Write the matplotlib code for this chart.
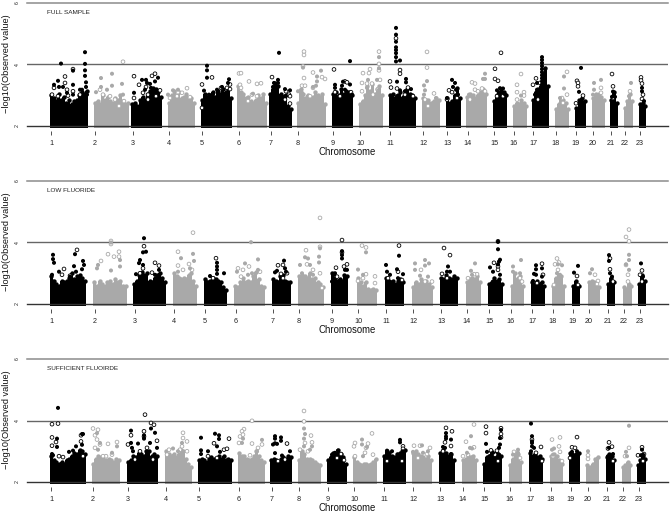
import numpy as np
import matplotlib
matplotlib.use('Agg')
from matplotlib import pyplot as plt

plt.rcParams['font.family'] = ['Liberation Sans', 'DejaVu Sans']

W, H = 670, 513
BLACK = '#000000'
GREY = '#a9a9a9'

chroms = [str(i) for i in range(1, 24)]

# positions along the genome axis, one start/end/tick per chromosome
p1_start = [50, 94, 131, 168, 201, 237, 269, 297, 332, 359, 389, 422, 446, 466, 493, 513, 532, 555, 575, 592, 610, 624, 639]
p1_end = [88, 129, 162, 195, 232, 267, 292, 326, 353, 383, 416, 440, 461, 487, 507, 527, 549, 569, 586, 605, 618, 633, 646]
p1_ticks = [51, 95, 133, 169, 202, 239, 271, 298, 333, 360, 390, 423, 447, 468, 494, 514, 533, 556, 576, 593, 611, 625, 640]

p2_start = [50, 93, 133, 173, 204, 234, 272, 298, 331, 357, 385, 412, 440, 466, 488, 511, 531, 552, 572, 588, 607, 623, 638]
p2_end = [86, 127, 166, 197, 227, 265, 291, 324, 348, 377, 404, 433, 458, 481, 503, 524, 545, 565, 580, 600, 615, 632, 646]
p2_ticks = [51, 95, 135, 174, 205, 236, 273, 299, 332, 358, 386, 413, 441, 467, 489, 511, 532, 553, 573, 589, 608, 624, 640]

p3_start = [50, 92, 127, 165, 198, 238, 270, 298, 327, 353, 383, 412, 439, 462, 483, 509, 529, 550, 569, 586, 606, 622, 637]
p3_end = [86, 120, 158, 192, 232, 265, 292, 321, 347, 377, 406, 432, 455, 477, 502, 522, 543, 563, 580, 599, 615, 631, 646]
p3_ticks = [51, 93, 128, 166, 199, 239, 272, 299, 328, 354, 384, 413, 440, 463, 484, 510, 530, 551, 571, 588, 607, 623, 639]

# upper edge of the dense cloud along each chromosome
p1_band = [
    [3.0, 2.9, 2.8, 3.05, 2.85, 2.95, 2.75, 2.85, 2.7, 2.8, 2.85, 3.0, 3.1, 3.05, 3.15],
    [2.75, 2.8, 2.7, 3.0, 2.85, 2.95, 2.8, 2.75, 2.9, 2.85, 3.0, 2.8, 2.7, 2.75],
    [2.7, 2.75, 2.65, 2.85, 2.95, 2.85, 3.05, 3.15, 3.25, 3.2, 3.1, 2.95],
    [2.75, 3.0, 3.15, 2.95, 3.1, 2.9, 2.95, 3.05, 2.85, 2.9, 2.75],
    [2.85, 3.05, 2.95, 3.0, 3.1, 2.95, 3.15, 3.05, 3.2, 3.1, 3.2, 2.9],
    [3.3, 3.1, 3.05, 2.9, 2.95, 2.8, 2.75, 2.85, 3.0, 2.9, 3.05, 2.75],
    [3.05, 3.2, 3.4, 3.3, 3.05, 2.95, 3.0, 2.65, 2.55],
    [2.75, 3.2, 3.05, 2.9, 3.0, 2.9, 2.95, 3.1, 3.0, 2.95, 3.05, 2.7],
    [3.05, 3.1, 3.0, 3.2, 3.05, 3.15, 3.1, 3.0],
    [2.7, 2.8, 3.0, 3.3, 3.15, 3.35, 3.05, 3.2, 3.3, 3.0],
    [3.0, 3.05, 2.9, 3.0, 3.1, 2.95, 3.15, 3.2, 3.05, 3.0, 2.9],
    [2.9, 2.85, 2.85, 2.75, 2.8, 2.9, 2.85],
    [2.9, 2.75, 2.8, 3.0, 3.25, 2.9],
    [2.95, 3.05, 3.0, 2.9, 3.0, 3.1, 3.2, 3.05],
    [2.8, 3.0, 3.1, 3.2, 3.1, 3.0],
    [2.65, 2.75, 2.7, 2.85, 2.75, 2.65],
    [2.85, 3.1, 3.2, 3.3, 3.7, 3.9, 3.3],
    [2.55, 2.7, 2.9, 2.85, 2.75, 2.55],
    [2.6, 2.85, 2.9, 2.8],
    [2.9, 3.05, 3.05, 2.95, 2.85],
    [2.85, 3.1, 2.75],
    [2.6, 2.8, 3.05, 2.8],
    [2.7, 2.75, 2.65],
]
p2_band = [
    [2.9, 2.75, 2.65, 2.6, 2.75, 2.7, 2.75, 2.85, 3.0, 2.8, 2.9, 2.95, 2.85, 2.75],
    [2.7, 2.6, 2.75, 2.65, 2.6, 2.7, 2.75, 2.65, 2.8, 2.7, 2.75, 2.6, 2.6],
    [2.65, 2.75, 2.95, 3.05, 2.95, 3.0, 2.75, 2.7, 2.85, 2.95, 3.0, 2.85, 2.7],
    [3.0, 2.9, 2.85, 2.8, 2.85, 2.8, 2.95, 3.0, 2.75, 2.6],
    [2.8, 2.7, 2.75, 2.85, 2.8, 2.75, 2.7, 2.55, 2.45],
    [2.6, 2.55, 2.7, 2.85, 2.7, 2.75, 2.7, 2.9, 3.05, 2.8, 2.6, 2.55],
    [2.8, 2.75, 2.7, 2.9, 2.95, 2.75, 2.7, 2.7],
    [2.9, 2.95, 2.9, 2.85, 3.0, 2.8, 2.85, 2.7, 2.65, 2.55],
    [3.0, 2.85, 2.75, 2.8, 2.75, 2.95, 2.9],
    [2.85, 2.7, 2.6, 2.7, 2.5, 2.45, 2.5, 2.45],
    [2.85, 2.75, 2.7, 2.75, 2.65, 2.75, 2.8, 2.7],
    [2.55, 2.7, 2.65, 2.8, 2.7, 2.75, 2.65, 2.55],
    [2.85, 2.8, 2.95, 2.85, 2.8, 2.9, 2.85],
    [2.7, 2.8, 2.85, 2.8, 2.9, 2.7],
    [2.65, 2.7, 2.85, 2.75, 2.8, 2.65],
    [2.6, 3.0, 2.85, 2.9, 2.6],
    [2.7, 2.65, 2.75, 2.65, 2.7, 2.6],
    [2.6, 2.85, 2.95, 2.9, 2.6],
    [2.6, 2.75, 2.6],
    [2.7, 2.75, 2.7, 2.65, 2.55],
    [2.65, 2.85, 2.7],
    [2.55, 2.5, 2.65, 2.6],
    [2.65, 2.95, 2.75],
]
p3_band = [
    [2.85, 2.7, 2.65, 2.6, 2.65, 2.6, 2.7, 2.75, 2.85, 2.95, 2.9, 3.05, 3.0, 2.9],
    [2.6, 2.75, 2.85, 2.8, 2.75, 2.7, 2.75, 2.7, 2.65, 2.75, 2.7],
    [2.65, 2.7, 2.85, 2.8, 2.95, 2.9, 2.85, 3.0, 3.0, 2.85, 2.9, 2.85],
    [3.0, 2.9, 2.85, 2.9, 2.8, 2.9, 3.05, 3.0, 2.75, 2.6, 2.5],
    [2.7, 2.75, 2.7, 2.65, 2.75, 2.8, 2.75, 2.7, 2.85, 2.75, 2.85, 2.7, 2.75, 2.7],
    [2.95, 2.85, 2.85, 2.75, 2.7, 2.75, 2.85, 3.0, 2.85, 2.7, 2.65],
    [2.7, 2.75, 2.7, 2.65, 2.75, 2.8, 2.75, 2.85, 2.8],
    [2.7, 3.0, 2.9, 2.75, 2.75, 2.7, 2.65, 2.6, 2.55],
    [2.7, 2.8, 2.95, 2.9, 3.05, 2.9, 2.8, 2.6],
    [2.8, 2.65, 2.6, 2.55, 2.6, 2.6, 2.55, 2.6, 2.65, 2.75],
    [2.85, 3.0, 2.95, 2.85, 2.8, 2.9, 2.95, 3.0, 3.05],
    [2.95, 3.0, 2.9, 2.85, 2.8, 2.75, 2.85, 2.7],
    [2.95, 3.05, 2.95, 2.85, 2.9, 2.7],
    [2.7, 2.75, 2.85, 2.8, 2.85, 2.7],
    [2.6, 2.8, 2.85, 3.0, 2.85, 2.95, 2.9, 2.85],
    [2.55, 2.75, 2.95, 2.9, 2.65],
    [2.95, 2.85, 2.9, 2.8, 2.85, 2.75],
    [2.85, 2.9, 2.85, 2.7, 2.6],
    [2.95, 2.85, 2.9, 2.95],
    [2.55, 2.5, 2.6, 2.75, 2.8],
    [2.8, 2.9, 2.85, 2.7],
    [2.5, 2.55, 2.65, 2.55],
    [2.55, 2.7, 2.85, 2.75],
]

# single SNPs standing clear of the cloud (position, -log10 p)
p1_filled = [
    (61, 4.03), (85, 4.40), (85, 4.02), (85, 3.81), (85, 3.63), (73, 3.80), (73, 3.34), (73, 3.02), (58, 3.47), (54, 3.34),
    (59, 3.27), (86, 3.42), (86, 3.27), (63, 3.27), (67, 3.08), (80, 3.18), (82, 3.18), (87, 3.02),
    (112, 3.70), (101, 3.56), (101, 3.27), (96, 3.1), (122, 3.37), (123, 3.02), (112, 3.31), (107, 3.18),
    (142, 3.5), (147, 3.4), (150, 3.37), (155, 3.45), (158, 3.57), (146, 3.5), (134, 3.08), (151, 3.24), (145, 3.18),
    (173, 3.16), (178, 3.18), (168, 3.02),
    (207, 3.96), (207, 3.81), (207, 3.57), (204, 3.15), (229, 3.52), (228, 3.4), (217, 3.18), (222, 3.27), (209, 3.02), (213, 3.02),
    (243, 2.97), (253, 3.05),
    (279, 4.38), (274, 3.4), (278, 3.5), (278, 3.4), (273, 3.27), (285, 3.2), (290, 3.16), (277, 3.18), (285, 2.97),
    (303, 3.9), (321, 3.8), (317, 3.61), (317, 3.45), (313, 3.27), (298, 3.13), (302, 3.08), (316, 3.31),
    (350, 4.11), (335, 3.34), (335, 3.24), (343, 3.44), (350, 3.35), (342, 3.31), (345, 3.18), (335, 2.91), (352, 3.02),
    (379, 4.24), (379, 3.88), (368, 3.5), (377, 3.5), (367, 3.24), (379, 3.18),
    (396, 5.19), (396, 4.97), (396, 4.74), (396, 4.56), (396, 4.47), (396, 4.37), (396, 4.24), (396, 4.1), (400, 4.13), (397, 3.44),
    (406, 3.53), (406, 3.42), (400, 3.16), (411, 3.2), (405, 3.13), (397, 2.97), (392, 2.91),
    (427, 3.46), (424, 3.32), (425, 3.16), (424, 3.02), (436, 2.91),
    (452, 3.5), (455, 3.4), (453, 3.27), (456, 3.18), (447, 2.91), (458, 3.02),
    (485, 3.7), (483, 3.53), (485, 3.53), (469, 3.02), (473, 2.97), (483, 3.02),
    (500, 3.23), (503, 3.22), (505, 3.03), (497, 3.16),
    (521, 2.99),
    (542, 4.24), (542, 4.15), (542, 4.05), (542, 3.95), (542, 3.85), (542, 3.75), (542, 3.65), (542, 3.55), (542, 3.45), (542, 3.35),
    (547, 3.26), (537, 3.18), (535, 3.02), (537, 3.4),
    (564, 3.61), (564, 3.22), (560, 2.91),
    (581, 3.89), (579, 3.11), (582, 2.86),
    (601, 3.5), (594, 3.4), (594, 3.18), (593, 3.02),
    (613, 3.12), (615, 2.95), (612, 2.95),
    (631, 3.4), (629, 2.97),
    (642, 3.24), (642, 3.13), (644, 2.81),
]
p1_open = [
    (54, 3.24), (65, 3.61), (65, 3.40), (73, 3.85), (67, 3.18), (68, 2.99), (73, 3.13), (52, 3.02), (58, 2.97), (80, 3.02),
    (123, 4.09), (100, 3.18), (103, 3.02), (115, 2.86), (124, 2.81), (119, 2.65), (110, 2.97),
    (134, 3.62), (139, 3.34), (152, 3.63), (155, 3.7), (146, 3.27), (143, 3.08), (148, 3.02), (134, 2.91), (160, 3.16), (156, 2.97), (148, 2.86),
    (187, 3.23), (182, 3.08), (177, 2.97), (170, 2.91), (190, 2.94), (178, 3.1),
    (202, 3.35), (212, 3.58), (230, 3.35), (227, 3.24), (230, 3.2), (202, 2.59), (221, 3.24),
    (239, 3.71), (241, 3.72), (249, 3.45), (257, 3.37), (261, 3.39), (240, 3.34), (241, 3.24), (252, 3.02), (257, 2.97), (248, 2.81),
    (272, 3.59), (289, 3.02), (290, 2.97), (290, 2.73), (286, 3.13), (285, 2.86),
    (304, 4.42), (304, 4.31), (303, 3.94), (304, 3.56), (313, 3.74), (302, 3.31), (305, 3.31), (325, 3.53), (322, 3.59), (313, 3.24), (310, 2.97),
    (334, 3.84), (345, 3.45), (347, 3.42), (335, 3.1), (340, 2.97), (351, 3.1),
    (379, 4.42), (379, 4.02), (379, 3.81), (363, 3.72), (370, 3.85), (369, 3.72), (362, 3.4), (367, 3.38), (372, 3.38), (380, 3.5), (362, 3.13), (373, 3.02), (378, 3.2),
    (396, 4.85), (400, 3.82), (400, 3.7), (390, 3.45), (391, 3.25), (397, 3.22), (408, 3.25), (405, 3.02), (413, 2.97),
    (427, 4.41), (427, 3.9), (434, 3.06), (425, 2.86), (428, 2.65),
    (449, 3.16), (452, 3.1), (447, 2.86), (457, 2.91),
    (472, 3.42), (475, 3.38), (475, 3.18), (482, 3.22), (478, 3.13), (485, 3.13), (470, 2.86),
    (501, 4.38), (495, 3.86), (495, 3.53), (498, 3.47), (497, 2.97), (503, 2.97),
    (521, 3.69), (517, 3.34), (517, 3.1), (524, 3.1), (524, 2.99), (517, 2.86),
    (536, 3.55), (533, 3.34), (540, 3.4), (538, 2.86),
    (567, 3.76), (567, 3.02), (562, 2.91), (563, 2.75),
    (577, 3.47), (578, 3.4), (578, 3.29), (583, 2.99), (576, 2.74),
    (601, 3.24), (601, 3.08),
    (612, 3.69), (613, 3.29), (613, 2.91),
    (630, 3.13),
    (641, 3.58), (641, 3.48), (642, 3.38), (643, 3.02), (642, 2.88),
]

p2_filled = [
    (53, 3.6), (53, 3.46), (54, 3.34), (75, 3.62), (74, 3.23), (76, 3.05), (83, 3.4), (84, 3.27), (82, 3.13), (52, 2.95), (53, 2.73), (59, 3.05), (70, 2.89),
    (111, 4.0), (120, 3.43), (97, 3.16), (98, 3.27), (111, 3.09), (120, 3.22),
    (144, 4.14), (146, 3.7), (143, 3.68), (139, 3.33), (140, 3.43), (136, 2.97), (143, 3.27), (155, 2.95), (159, 3.11),
    (181, 3.49), (193, 3.63), (194, 3.4), (178, 3.05), (190, 3.16),
    (217, 3.34), (217, 3.22), (217, 3.11), (217, 2.98), (224, 3.0), (210, 2.91), (206, 2.73),
    (251, 4.01), (258, 3.45), (245, 3.32), (237, 3.05), (248, 2.95), (258, 3.11), (252, 3.0),
    (284, 3.41), (277, 3.08), (275, 3.03), (285, 3.16), (286, 3.05),
    (320, 3.81), (319, 3.54), (305, 3.52), (308, 3.48), (319, 3.35), (300, 3.27), (310, 3.27), (302, 3.0), (313, 2.95),
    (342, 3.59), (342, 3.72), (342, 3.48), (335, 3.0), (345, 3.11), (347, 3.11), (332, 2.73), (334, 2.95),
    (366, 3.68), (358, 3.12), (363, 2.95),
    (399, 3.57), (386, 3.27), (397, 3.13), (387, 3.05), (390, 2.95), (403, 2.97), (398, 2.84),
    (425, 3.43), (415, 3.32), (429, 3.32), (425, 3.25), (415, 3.11), (420, 2.92), (428, 2.89),
    (448, 3.22), (447, 3.05), (450, 3.05), (455, 2.84),
    (475, 3.32), (471, 3.08), (472, 2.95),
    (498, 4.02), (498, 3.78), (500, 3.44), (498, 3.29), (490, 3.19), (499, 3.38), (493, 3.05), (500, 2.95), (493, 2.73),
    (521, 3.43), (513, 3.22), (513, 3.05), (520, 3.0),
    (536, 3.26), (542, 3.16), (536, 3.13), (534, 2.98), (533, 2.75), (542, 2.89), (536, 2.95),
    (562, 3.26), (558, 3.29), (557, 3.0), (560, 2.95),
    (578, 3.24), (574, 3.02),
    (592, 3.13), (590, 3.0),
    (609, 3.59), (609, 3.4), (610, 3.0), (612, 2.89),
    (629, 3.6), (629, 3.43), (626, 3.29), (629, 3.11),
    (641, 3.32), (643, 2.89),
]
p2_open = [
    (77, 3.76), (64, 3.14), (70, 2.92), (62, 2.95),
    (111, 4.05), (111, 3.95), (108, 3.62), (114, 3.54), (119, 3.7), (119, 3.54), (101, 3.4),
    (144, 3.88), (155, 3.34), (159, 3.25), (152, 3.02), (143, 3.16), (140, 3.0),
    (178, 3.7), (193, 4.32), (178, 3.25), (189, 3.3), (183, 3.11), (192, 3.11),
    (216, 3.49), (213, 2.84),
    (238, 3.16), (243, 3.11), (249, 3.22), (241, 2.89), (260, 3.05),
    (278, 3.26), (283, 3.27), (281, 2.98), (287, 3.0), (283, 2.84),
    (320, 4.8), (320, 3.86), (306, 3.75), (307, 3.29), (313, 3.11), (320, 3.0), (322, 2.52),
    (342, 4.08), (342, 3.68), (336, 3.18), (347, 3.29), (344, 3.22), (337, 2.89),
    (362, 3.9), (366, 3.84), (366, 2.97), (375, 2.9), (375, 2.68), (363, 2.84), (358, 2.75),
    (399, 3.9), (398, 3.05), (388, 2.84), (402, 2.78),
    (421, 3.11), (432, 2.73), (425, 2.73),
    (444, 3.82), (450, 3.59), (442, 2.98), (447, 2.84),
    (477, 2.97), (468, 2.84), (474, 2.97),
    (498, 4.04), (494, 3.34), (498, 3.22), (498, 3.11),
    (520, 2.84), (522, 2.73),
    (542, 3.31), (543, 2.95), (537, 2.68),
    (557, 3.48), (559, 3.35), (555, 3.29), (558, 3.11), (554, 2.62),
    (577, 2.91), (578, 2.62),
    (595, 2.95), (598, 2.75), (597, 2.65),
    (610, 3.48), (610, 3.13), (613, 2.73),
    (629, 4.42), (626, 4.18), (629, 4.04), (626, 3.27), (628, 2.95), (628, 2.73),
    (642, 3.09), (640, 2.95), (642, 2.73),
]

p3_filled = [
    (58, 4.41), (57, 3.41), (57, 3.14), (52, 2.91), (53, 2.87), (82, 3.56), (83, 3.56), (76, 3.16), (82, 3.21), (69, 2.98), (73, 3.02), (80, 3.0),
    (100, 3.27), (117, 3.16), (112, 2.95), (98, 3.05), (97, 3.59),
    (131, 3.67), (144, 3.41), (144, 3.52), (151, 3.74), (155, 3.6), (150, 3.27), (138, 3.25), (132, 3.11), (131, 3.27), (157, 3.11), (147, 2.95), (133, 3.0),
    (182, 3.27), (173, 3.09), (178, 3.0),
    (201, 3.44), (215, 3.57), (219, 3.52), (219, 3.4), (217, 3.16), (201, 3.03), (201, 2.91), (208, 3.0), (220, 2.98),
    (243, 3.41), (262, 3.37), (242, 3.27), (257, 3.0),
    (275, 3.49), (275, 3.41), (281, 3.45), (281, 3.34), (275, 3.26), (277, 3.24), (273, 3.22), (275, 2.94), (282, 2.86), (290, 3.0),
    (304, 3.74), (305, 3.56), (304, 3.41), (312, 3.16), (304, 3.16), (310, 3.05),
    (338, 3.02), (335, 2.95), (332, 2.89),
    (362, 3.38), (362, 3.22), (367, 3.14), (363, 2.84),
    (400, 3.37), (400, 3.29), (403, 3.0), (387, 3.02), (392, 3.0), (398, 2.89),
    (422, 3.19), (413, 2.98), (423, 2.95), (428, 3.0),
    (446, 3.59), (446, 3.48), (451, 3.38), (446, 3.41), (443, 3.14), (451, 2.91), (445, 3.11),
    (471, 3.49), (470, 3.11), (467, 2.95), (472, 3.09),
    (486, 3.24), (501, 3.69), (500, 3.43), (500, 3.22), (499, 3.11), (487, 2.98), (493, 2.95), (499, 2.89), (490, 2.84),
    (518, 3.05), (513, 2.89), (518, 2.95),
    (531, 3.9), (532, 3.49), (532, 3.27), (532, 3.16), (531, 3.0), (534, 3.11), (532, 3.32),
    (554, 3.09), (552, 3.05), (553, 2.89),
    (572, 2.98), (577, 3.0), (573, 2.89),
    (588, 3.0),
    (609, 3.11), (613, 2.91), (608, 2.84),
    (629, 3.83), (626, 2.98), (627, 2.84),
    (642, 3.05), (641, 2.87), (643, 2.89),
]
p3_open = [
    (52, 3.88), (58, 3.9), (52, 3.45), (56, 3.3), (52, 3.18), (59, 2.84), (63, 2.81), (81, 3.52), (81, 3.32), (83, 2.84),
    (93, 3.74), (98, 3.7), (95, 3.52), (97, 3.38), (100, 3.22), (108, 3.24), (95, 3.11), (117, 3.3), (106, 2.84), (103, 2.84), (112, 2.89),
    (145, 4.19), (151, 3.92), (154, 3.86), (144, 3.65), (131, 3.52), (144, 3.48), (157, 3.34), (128, 3.22), (147, 3.11), (140, 3.0), (135, 2.73), (153, 2.73),
    (183, 3.6), (183, 3.43), (187, 3.32), (187, 3.0), (180, 3.05), (169, 3.05), (182, 3.16), (167, 2.89),
    (229, 3.41), (214, 3.26), (224, 3.05), (227, 3.08), (208, 2.84), (217, 2.78),
    (244, 3.72), (252, 3.99), (240, 3.48), (242, 3.65), (243, 3.54), (239, 3.27), (252, 3.25), (262, 3.22), (250, 2.87), (258, 3.11),
    (287, 3.25), (285, 2.73), (278, 2.68),
    (304, 4.31), (304, 3.97), (311, 3.51), (312, 3.29), (305, 3.27), (300, 3.05), (308, 3.0),
    (341, 2.91), (344, 2.71), (337, 2.78),
    (372, 3.58), (354, 3.16), (355, 3.27), (368, 3.25), (366, 3.11), (365, 2.95), (355, 2.84), (373, 2.89),
    (403, 3.16), (403, 3.08), (387, 2.68), (402, 2.68),
    (414, 3.18), (420, 3.18), (430, 3.11), (427, 2.91), (418, 2.78),
    (446, 3.76), (452, 3.65), (451, 3.17), (445, 3.29), (443, 3.0),
    (474, 3.87), (466, 3.31), (474, 3.13), (463, 2.84), (468, 2.89),
    (486, 3.8), (486, 3.59), (501, 3.75), (501, 3.56), (491, 3.03), (497, 3.02), (501, 3.45), (498, 2.68), (495, 2.89),
    (514, 2.98), (520, 2.78),
    (532, 3.38), (541, 3.14), (536, 2.95), (542, 2.68),
    (560, 3.45), (552, 3.38), (559, 3.16), (560, 2.98), (553, 2.84), (562, 2.68),
    (577, 3.46), (572, 3.13), (575, 3.11), (570, 2.78),
    (588, 2.87), (588, 2.75),
    (609, 3.29), (612, 3.15), (608, 3.09), (613, 2.68),
    (629, 3.11), (625, 2.84),
    (642, 3.13), (644, 2.91), (638, 2.87), (643, 2.68),
]

titles = ['FULL SAMPLE', 'LOW FLUORIDE', 'SUFFICIENT FLUOIRDE']


def chrom_colors(xs, start):
    cols = []
    for x in xs:
        idx = 0
        for i in range(len(start)):
            if x >= start[i] - 3:
                idx = i
        cols.append(BLACK if idx % 2 == 0 else GREY)
    return cols


def manhattan(top, base, title, start, end, ticks, band, filled, opened):
    ax = fig.add_axes([27 / W, 1 - base / H, (668 - 27) / W, (base - top) / H])
    ax.set_xlim(27, 668)
    ax.set_ylim(2, 6)
    ax.patch.set_alpha(0)

    for i in range(len(start)):
        col = BLACK if i % 2 == 0 else GREY
        edge = np.linspace(start[i], end[i], len(band[i]) + 1)
        mid = (edge[:-1] + edge[1:]) / 2
        tops = np.array(band[i])
        ax.bar(mid, tops - 1.95, bottom=1.95, width=(edge[1] - edge[0]) * 1.15, color=col, linewidth=0, zorder=2, clip_on=False)
        ax.scatter(mid, tops, s=10, color=col, linewidths=0, zorder=2)

    ox, oy = np.array(opened).T
    ax.scatter(ox, oy, s=7, facecolors='white', edgecolors=chrom_colors(ox, start), linewidths=0.6, zorder=3, clip_on=False)
    fx, fy = np.array(filled).T
    ax.scatter(fx, fy, s=8.5, color=chrom_colors(fx, start), linewidths=0, zorder=4, clip_on=False)

    ax.axhline(6, color='#8c8c8c', lw=1.1, zorder=1, clip_on=False)
    ax.axhline(4, color='#666666', lw=1.0, zorder=1)
    ax.axhline(2, color='#333333', lw=1.0, zorder=5, clip_on=False)

    for s in ['top', 'right', 'left', 'bottom']:
        ax.spines[s].set_visible(False)
    ax.spines['bottom'].set_position(('outward', 3.5))
    ax.set_xticks(ticks)
    ax.set_xticklabels(chroms, fontsize=5.2, color='#222222')
    ax.tick_params(axis='x', length=3, width=0.6, pad=3.5, color='#333333')
    ax.set_yticks([2, 4, 6])
    ax.set_yticklabels(['2', '4', '6'], fontsize=3.8, rotation=90, va='center', color='#222222')
    ax.tick_params(axis='y', length=0, pad=5)

    ax.text(47, 5.7, title, fontsize=4.6, va='center', color='#222222')
    ax.set_xlabel('Chromosome', fontsize=6.9, color='#111111', labelpad=0)
    fig.text(6.5 / W, 1 - (top + 61) / H, '\u2212log10(Observed value)', fontsize=6.6, rotation=90, ha='center', va='center', color='#111111')
    return ax


fig = plt.figure(figsize=(W / 100, H / 100), dpi=100)
manhattan(3, 126, titles[0], p1_start, p1_end, p1_ticks, p1_band, p1_filled, p1_open)
manhattan(181, 304, titles[1], p2_start, p2_end, p2_ticks, p2_band, p2_filled, p2_open)
manhattan(359, 482, titles[2], p3_start, p3_end, p3_ticks, p3_band, p3_filled, p3_open)
fig.savefig('out.png', dpi=100)
